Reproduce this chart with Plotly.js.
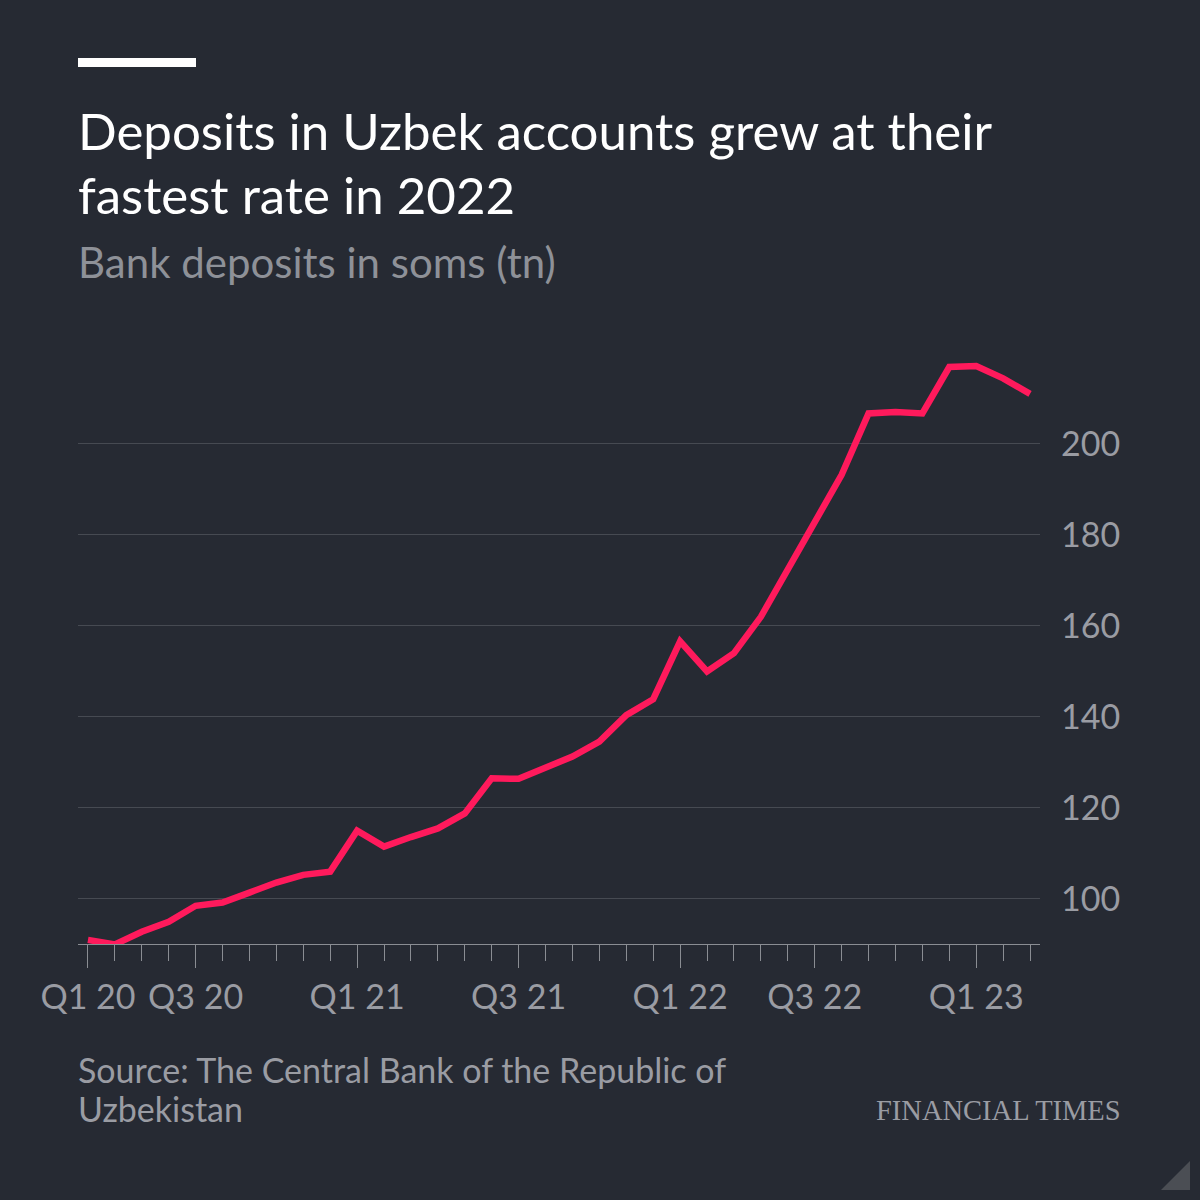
<!DOCTYPE html>
<html>
<head>
<meta charset="utf-8">
<script src="https://cdn.plot.ly/plotly-3.0.1.min.js"></script>
<style>
  html, body { margin: 0; padding: 0; background: #262a33; }
  #chart { width: 1200px; height: 1200px; }
</style>
</head>
<body>
<div id="chart"></div>
<script>
// ── Data (bank deposits, soms tn), one point per period ──
const deposits = [
  91.0, 90.0, 92.8, 95.0, 98.5, 99.2, 101.4, 103.6, 105.3, 106.0,
  115.0, 111.5, 113.6, 115.5, 118.8, 126.5, 126.4, 128.7, 131.3, 134.6,
  140.4, 143.9, 156.6, 150.0, 154.0, 162.0, 172.3, 182.9, 193.2, 206.7,
  207.0, 206.7, 216.9, 217.1, 214.4, 211.0
];
const periodIdx = deposits.map((_, i) => i);

// long ticks (with or without a label) and the labels themselves
const majorTicks = [0, 1, 4, 7, 10, 13, 16, 19, 22, 24, 27, 30, 33, 35];
const labelTicks = [0, 4, 10, 16, 22, 27, 33];
const labelText  = ['Q1 20', 'Q3 20', 'Q1 21', 'Q3 21', 'Q1 22', 'Q3 22', 'Q1 23'];
const yTicks = [100, 120, 140, 160, 180, 200];

const BG = '#262a33';
const GREY = '#9a9ca3';
const FONT = 'Lato, "Open Sans", sans-serif';

// plot area in page pixels
const PL = 78, PR = 1040, PT = 362, PB = 944;
const px = X => (X - PL) / (PR - PL);
const py = Y => (PB - Y) / (PB - PT);

const majorText = majorTicks.map(v => {
    const k = labelTicks.indexOf(v);
    return k >= 0 ? labelText[k] : '';
});

const data = [{
    x: periodIdx, y: deposits, type: 'scatter', mode: 'lines',
    line: { color: '#ff1a5c', width: 6.5, shape: 'linear' },
    hoverinfo: 'skip', showlegend: false
}];

const ann = (text, X, Y, size, color, extra) => Object.assign({
    text, x: px(X), y: py(Y), xref: 'paper', yref: 'paper',
    xanchor: 'left', yanchor: 'middle', showarrow: false,
    font: { family: FONT, size, color }
}, extra || {});

const layout = {
    width: 1200, height: 1200,
    paper_bgcolor: BG, plot_bgcolor: BG,
    margin: { l: PL, r: 1200 - PR, t: PT, b: 1200 - PB, pad: 0 },
    showlegend: false,
    xaxis: {
        range: [-0.37, 35.37], showgrid: false, zeroline: false,
        showline: true, linecolor: '#8a8d93', linewidth: 1,
        tickmode: 'array', tickvals: majorTicks, ticktext: majorText,
        ticks: 'outside', ticklen: 23, tickcolor: '#8a8d93', tickwidth: 1,
        tickfont: { family: FONT, size: 34, color: GREY },
        minor: { tickmode: 'array', tickvals: periodIdx, ticks: 'outside', ticklen: 16, tickcolor: '#8a8d93', tickwidth: 1 },
        fixedrange: true
    },
    yaxis: {
        range: [90.1, 218], side: 'right', tickvals: yTicks,
        showgrid: true, gridcolor: '#464a52', gridwidth: 1,
        zeroline: false, showline: false, ticks: '',
        ticklabelstandoff: 20,
        tickfont: { family: FONT, size: 34, color: GREY },
        fixedrange: true
    },
    shapes: [
        // white bar over the title
        { type: 'rect', xref: 'paper', yref: 'paper', x0: px(78), x1: px(196), y0: py(67), y1: py(58),
          fillcolor: '#ffffff', line: { width: 0 } },
        // corner triangle
        { type: 'path', xref: 'paper', yref: 'paper',
          path: `M ${px(1190)} ${py(1161)} L ${px(1190)} ${py(1190)} L ${px(1161)} ${py(1190)} Z`,
          fillcolor: '#4b4e54', line: { width: 0 } }
    ],
    annotations: [
        ann('Deposits in Uzbek accounts grew at their', 76, 130, 51, '#ffffff'),
        ann('fastest rate in 2022', 76, 195, 51, '#ffffff'),
        ann('Bank deposits in soms (tn)', 76, 262, 42, '#8e9198'),
        ann('Source: The Central Bank of the Republic of', 76, 1069, 34, GREY),
        ann('Uzbekistan', 76, 1108, 34, GREY),
        ann('FINANCIAL TIMES', 1123, 1110, 28.5, GREY,
            { xanchor: 'right', font: { family: '"Liberation Serif", "DejaVu Serif", serif', size: 28.5, color: GREY } })
    ]
};

Plotly.newPlot('chart', data, layout, { staticPlot: true, displayModeBar: false });
</script>
</body>
</html>
